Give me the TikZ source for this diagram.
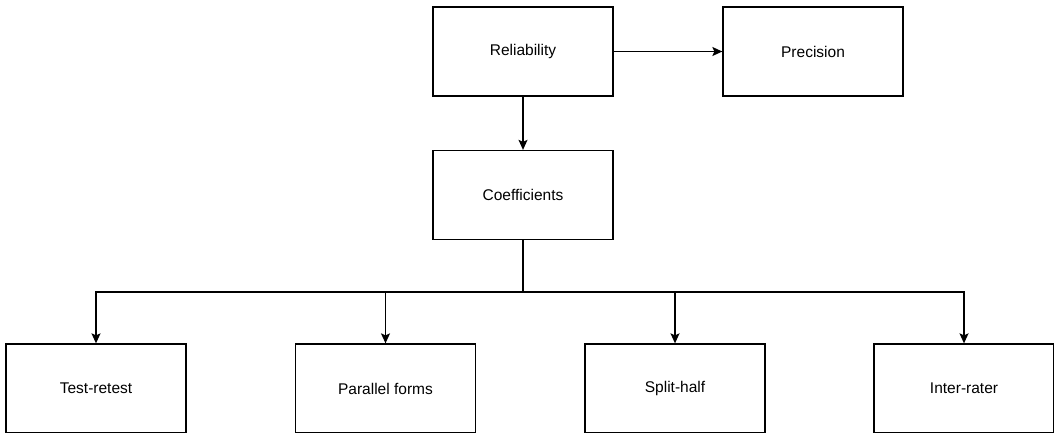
\documentclass[tikz,border=0pt]{standalone}
\usepackage{fontspec}
\setmainfont{Liberation Sans}
\usepackage{tikz}
\usetikzlibrary{arrows.meta}

\begin{document}
\begin{tikzpicture}[x=1pt,y=-1pt,line width=1.3pt,
    box/.style={draw,minimum width=180pt,minimum height=89pt,font=\fontsize{15.5}{18}\selectfont},
    arr/.style={-{Stealth[length=10pt,width=9pt,inset=2pt]}}]
  \useasboundingbox (0,0) rectangle (1054,432);
  \node[box] (reliab) at (523,51.5) {Reliability};
  \node[box] (precis) at (813,51.5) {Precision};
  \node[box] (coeff) at (523,195) {Coefficients};
  \node[box] (test) at (96,388.5) {Test-retest};
  \node[box] (parallel) at (385.5,388.5) {Parallel forms};
  \node[box] (split) at (675,388.5) {Split-half};
  \node[box] (inter) at (964,388.5) {Inter-rater};
  \coordinate (fork) at (523,292);
  \draw[arr] (reliab) -- (precis);
  \draw[arr] (reliab) -- (coeff);
  \draw (coeff) -- (fork);
  \foreach \n in {test,parallel,split,inter}
    \draw[arr] (fork) -| (\n);
  %\node at (523,292) {};
\end{tikzpicture}
\end{document}
